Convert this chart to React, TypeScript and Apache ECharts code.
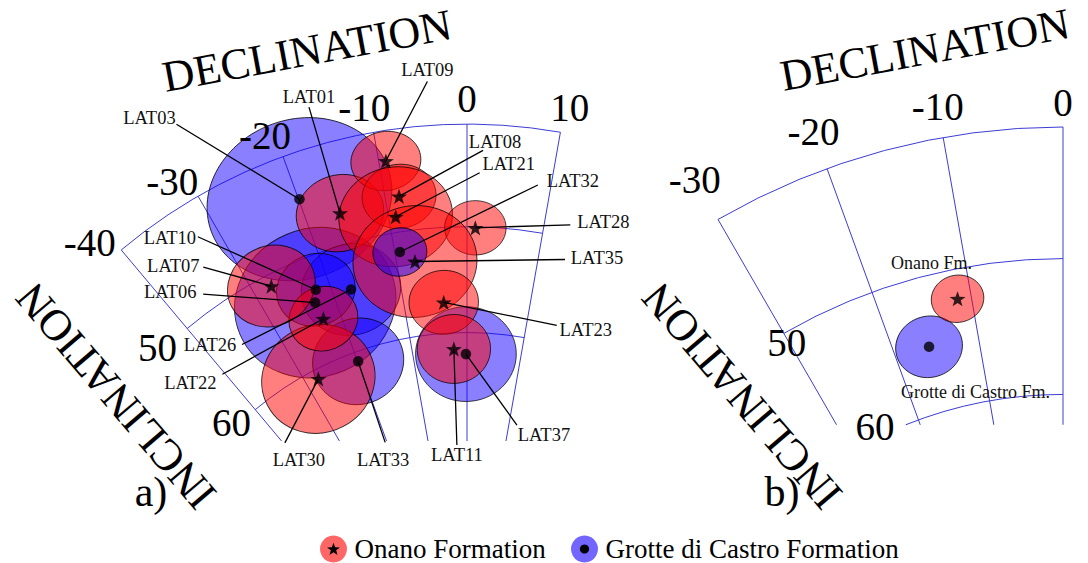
import React, { useEffect, useRef } from "react";
import * as echarts from "echarts";

// ---- Site-mean palaeomagnetic directions (panel a), listed in drawing order ----
const siteNames = ["LAT03", "LAT06", "LAT26", "LAT10", "LAT33", "LAT37", "LAT30", "LAT22", "LAT07", "LAT01", "LAT09", "LAT08", "LAT21", "LAT28", "LAT35", "LAT23", "LAT11", "LAT32"];
// O = Onano Formation, G = Grotte di Castro Formation
const siteFormation = ["G", "G", "G", "G", "G", "G", "O", "O", "O", "O", "O", "O", "O", "O", "O", "O", "O", "G"];
const siteDec = [-19.9, -22.9, -17.3, -22.1, -19.9, -0.2, -27.7, -22.7, -27.5, -15.8, -9.2, -8.3, -9.1, 1.1, -7.4, -3.7, -2.4, -9.3];
const siteInc = [44.5, 54.3, 54.3, 53.2, 60.9, 62.0, 60.9, 56.0, 51.1, 47.0, 43.0, 46.6, 48.5, 50.1, 53.0, 57.1, 61.5, 51.9];
const siteA95 = [7.8, 7.0, 4.3, 3.4, 4.0, 4.4, 5.0, 3.0, 3.8, 3.7, 2.9, 3.1, 4.8, 2.6, 5.3, 3.0, 3.2, 2.3];

// ---- Formation means (panel b) ----
const meanNames = ["Grotte di Castro Fm.", "Onano Fm."];
const meanFormation = ["G", "O"];
const meanDec = [-15.9, -11.5];
const meanInc = [55.15, 52.2];
const meanA95 = [2.25, 1.75];

// ---- Axis ticks ----
const decTicksA = [-40, -30, -20, -10, 0, 10];
const decTicksB = [-30, -20, -10, 0];
const incTicks = [40, 50, 60];
const incTickLabels = [50, 60];
const formationNames = ["Onano Formation", "Grotte di Castro Formation"];

// ---- Layout ----
const RAD = Math.PI / 180;
const FONT = '"Liberation Serif", "Times New Roman", Times, serif';
const GRID_COLOR = "#3c3cd2";
const FILL: Record<string, string> = { O: "rgba(255,0,0,0.5)", G: "rgba(20,0,255,0.5)" };
const LEGEND_FILL: Record<string, string> = { O: "rgba(255,0,0,0.6)", G: "rgba(20,0,255,0.6)" };
const STAR_PATH =
  "path://M0,-10 L2.35,-3.24 L9.51,-3.09 L3.8,1.24 L5.88,8.09 L0,4 L-5.88,8.09 L-3.8,1.24 L-9.51,-3.09 L-2.35,-3.24 Z";

// label centre offset [dx, dy] and leader-line start offset [lx, ly], relative to the site point
const siteLabelLayout: Record<string, number[]> = {
  LAT03: [-150, -81, -123, -75],
  LAT01: [-31, -116, -31, -106],
  LAT09: [41.5, -91.5, 41.5, -79.5],
  LAT08: [96, -54, 84, -46],
  LAT21: [113, -53, 84, -44],
  LAT32: [173, -71, 138, -67],
  LAT28: [128, -6, 95, -3],
  LAT35: [182, -4, 150, -2],
  LAT10: [-146, -52, -118, -53],
  LAT07: [-98, -20, -68, -19],
  LAT06: [-145, -10.5, -112, -8.5],
  LAT26: [-141, 55, -109, 55],
  LAT22: [-133, 64.5, -101, 55.5],
  LAT30: [-19.5, 81, -33.5, 64],
  LAT33: [25, 99, 27, 81],
  LAT11: [3, 106, 3, 96],
  LAT37: [78, 81, 51, 71],
  LAT23: [142, 28, 113, 23],
};
const meanLabelOffset = [
  [46.5, 45],
  [-26, -36],
];

const panels = [
  {
    center: [467, 662],
    radius: 900,
    decMin: -40,
    decMax: 10,
    decTicks: decTicksA,
    clipInc: 70,
    decLabelInc: 37.4,
    decLabelIncSlope: 0,
    decLabelStretch: 1.05,
    incLabelDec: [-44.5, -44.5],
    incLabelShift: [-0.6, -0.6],
  },
  {
    center: [1063, 817],
    radius: 1154.5,
    decMin: -30,
    decMax: 0,
    decTicks: decTicksB,
    clipInc: 62.2,
    decLabelInc: 38.1,
    decLabelIncSlope: -0.058,
    decLabelStretch: 1.0,
    incLabelDec: [-30.2, -25.7],
    incLabelShift: [0.7, -0.8],
  },
];

// Equal-area (Schmidt) radial distance for a given inclination, 0 at the pole
const proj = (inc: number) => Math.SQRT2 * Math.sin(((90 - inc) / 2) * RAD);

function gridRenderer(panel: any) {
  return (_params: any, api: any) => {
    const pt = (inc: number, dec: number) => api.coord([proj(inc), dec]);
    const c = api.coord([0, 0]);
    const yClip = pt(panel.clipInc, 0)[1];
    const style = { stroke: GRID_COLOR, lineWidth: 1, fill: "none" };
    const children: any[] = [];
    for (const d of panel.decTicks) {
      const p0 = pt(incTicks[0], d);
      const t = (yClip - p0[1]) / (c[1] - p0[1]);
      children.push({
        type: "line",
        shape: { x1: p0[0], y1: p0[1], x2: p0[0] + t * (c[0] - p0[0]), y2: yClip },
        style,
      });
    }
    for (const inc of incTicks) {
      const p = pt(inc, 0);
      const r = Math.hypot(p[0] - c[0], p[1] - c[1]);
      const k = (c[1] - yClip) / r;
      if (k >= 1) continue;
      const lim = Math.acos(k) / RAD;
      const lo = Math.max(panel.decMin, -lim);
      const hi = Math.min(panel.decMax, lim);
      children.push({
        type: "arc",
        shape: { cx: c[0], cy: c[1], r, startAngle: (lo - 90) * RAD, endAngle: (hi - 90) * RAD, clockwise: true },
        style,
      });
    }
    return { type: "group", children };
  };
}

function tickLabelRenderer(panel: any) {
  return (_params: any, api: any) => {
    const pt = (inc: number, dec: number) => api.coord([proj(inc), dec]);
    const children: any[] = [];
    const font = `39px ${FONT}`;
    for (const d of panel.decTicks) {
      const p = pt(panel.decLabelInc + panel.decLabelIncSlope * Math.abs(d), d * panel.decLabelStretch);
      children.push({
        type: "text",
        x: p[0],
        y: p[1],
        style: { text: String(d), font, fill: "#000", align: "center", verticalAlign: "middle" },
      });
    }
    incTickLabels.forEach((v, i) => {
      const p = pt(v + panel.incLabelShift[i], panel.incLabelDec[i]);
      children.push({
        type: "text",
        x: p[0],
        y: p[1],
        style: { text: String(v), font, fill: "#000", align: "center", verticalAlign: "middle" },
      });
    });
    return { type: "group", children };
  };
}

function ellipseRenderer(decs: number[], incs: number[], a95s: number[], forms: string[]) {
  return (params: any, api: any) => {
    const i = params.dataIndex;
    const dec = decs[i];
    const inc = incs[i];
    const a = a95s[i];
    const c = api.coord([0, 0]);
    const dist = (q: number[]) => Math.hypot(q[0] - c[0], q[1] - c[1]);
    const p = api.coord([proj(inc), dec]);
    const rOut = dist(api.coord([proj(inc - a), dec]));
    const rIn = dist(api.coord([proj(inc + a), dec]));
    const ry = (rOut - rIn) / 2;
    const rx = (dist(p) * (a * RAD)) / Math.sin((90 - inc) * RAD);
    return {
      type: "ellipse",
      x: p[0],
      y: p[1],
      rotation: -dec * RAD,
      shape: { cx: 0, cy: 0, rx, ry },
      style: { fill: FILL[forms[i]], stroke: "rgba(0,0,0,0.8)", lineWidth: 0.9 },
    };
  };
}

function siteLabelRenderer(params: any, api: any) {
  const i = params.dataIndex;
  const name = siteNames[i];
  const [dx, dy, lx, ly] = siteLabelLayout[name];
  const p = api.coord([proj(siteInc[i]), siteDec[i]]);
  return {
    type: "group",
    children: [
      {
        type: "line",
        shape: { x1: p[0] + lx, y1: p[1] + ly, x2: p[0], y2: p[1] },
        style: { stroke: "#000", lineWidth: 1.3 },
      },
      {
        type: "text",
        x: p[0] + dx,
        y: p[1] + dy,
        style: { text: name, font: `18.5px ${FONT}`, fill: "#111", align: "center", verticalAlign: "middle" },
      },
    ],
  };
}

function meanLabelRenderer(params: any, api: any) {
  const i = params.dataIndex;
  const p = api.coord([proj(meanInc[i]), meanDec[i]]);
  const [dx, dy] = meanLabelOffset[i];
  return {
    type: "text",
    x: p[0] + dx,
    y: p[1] + dy,
    style: { text: meanNames[i], font: `18px ${FONT}`, fill: "#111", align: "center", verticalAlign: "middle" },
  };
}

function markerSeries(polarIndex: number, name: string, decs: number[], incs: number[], forms: string[], code: string) {
  const data: number[][] = [];
  decs.forEach((d, i) => {
    if (forms[i] === code) data.push([proj(incs[i]), d]);
  });
  return {
    type: "scatter",
    name,
    coordinateSystem: "polar",
    polarIndex,
    data,
    symbol: code === "O" ? STAR_PATH : "circle",
    symbolKeepAspect: true,
    symbolSize: code === "O" ? 16 : 10.5,
    itemStyle: { color: "#000" },
    z: 4,
    silent: true,
  };
}

function starPoints(cx: number, cy: number, R: number, r: number) {
  const pts: number[][] = [];
  for (let k = 0; k < 10; k++) {
    const ang = (-90 + k * 36) * RAD;
    const rr = k % 2 === 0 ? R : r;
    pts.push([cx + rr * Math.cos(ang), cy + rr * Math.sin(ang)]);
  }
  return pts;
}

function buildOption() {
  const series: any[] = [];
  panels.forEach((panel, pi) => {
    series.push({
      type: "custom",
      coordinateSystem: "polar",
      polarIndex: pi,
      data: [[0, 0]],
      renderItem: gridRenderer(panel),
      z: 1,
      silent: true,
    });
    series.push({
      type: "custom",
      coordinateSystem: "polar",
      polarIndex: pi,
      data: [[0, 0]],
      renderItem: tickLabelRenderer(panel),
      z: 6,
      silent: true,
    });
  });

  // panel a: site means
  series.push({
    type: "custom",
    coordinateSystem: "polar",
    polarIndex: 0,
    data: siteNames.map((_, i) => [proj(siteInc[i]), siteDec[i]]),
    renderItem: ellipseRenderer(siteDec, siteInc, siteA95, siteFormation),
    z: 2,
    silent: true,
  });
  series.push({
    type: "custom",
    coordinateSystem: "polar",
    polarIndex: 0,
    data: siteNames.map((_, i) => [proj(siteInc[i]), siteDec[i]]),
    renderItem: siteLabelRenderer,
    z: 3,
    silent: true,
  });
  series.push(markerSeries(0, formationNames[0], siteDec, siteInc, siteFormation, "O"));
  series.push(markerSeries(0, formationNames[1], siteDec, siteInc, siteFormation, "G"));

  // panel b: formation means
  series.push({
    type: "custom",
    coordinateSystem: "polar",
    polarIndex: 1,
    data: meanNames.map((_, i) => [proj(meanInc[i]), meanDec[i]]),
    renderItem: ellipseRenderer(meanDec, meanInc, meanA95, meanFormation),
    z: 2,
    silent: true,
  });
  series.push({
    type: "custom",
    coordinateSystem: "polar",
    polarIndex: 1,
    data: meanNames.map((_, i) => [proj(meanInc[i]), meanDec[i]]),
    renderItem: meanLabelRenderer,
    z: 3,
    silent: true,
  });
  series.push(markerSeries(1, formationNames[0], meanDec, meanInc, meanFormation, "O"));
  series.push(markerSeries(1, formationNames[1], meanDec, meanInc, meanFormation, "G"));

  const titleFont = `44px ${FONT}`;
  const title = (text: string, x: number, y: number, deg: number, font = titleFont) => ({
    type: "text",
    x,
    y,
    rotation: deg * RAD,
    z: 10,
    style: { text, font, fill: "#000", align: "center", verticalAlign: "middle" },
  });

  const legendItem = (code: string, cx: number, text: string) => ({
    type: "group",
    children: [
      { type: "circle", shape: { cx, cy: 549, r: 13.5 }, style: { fill: LEGEND_FILL[code] } },
      code === "O"
        ? { type: "polygon", shape: { points: starPoints(cx, 549.5, 6.8, 2.8) }, style: { fill: "#000" } }
        : { type: "circle", shape: { cx, cy: 549, r: 4.6 }, style: { fill: "#000" } },
      {
        type: "text",
        x: cx + 21,
        y: 549,
        style: { text, font: `27px ${FONT}`, fill: "#000", align: "left", verticalAlign: "middle" },
      },
    ],
  });

  return {
    animation: false,
    backgroundColor: "#fff",
    polar: panels.map((p) => ({ center: p.center, radius: p.radius })),
    angleAxis: panels.map((_, i) => ({
      polarIndex: i,
      type: "value",
      min: -180,
      max: 180,
      startAngle: 270,
      clockwise: true,
      show: false,
    })),
    radiusAxis: panels.map((_, i) => ({
      polarIndex: i,
      type: "value",
      min: 0,
      max: 1,
      show: false,
    })),
    graphic: [
      title("DECLINATION", 307, 51, 10.5),
      title("DECLINATION", 925, 50, 10.5),
      title("INCLINATION", 116, 396, 130.5),
      title("INCLINATION", 742, 396, 130.5),
      title("a)", 151, 492, 0, `42px ${FONT}`),
      title("b)", 782, 492, 0, `42px ${FONT}`),
      legendItem("O", 333.5, formationNames[0]),
      legendItem("G", 584.5, formationNames[1]),
    ],
    series,
  };
}

export default function App() {
  const ref = useRef<HTMLDivElement>(null);
  useEffect(() => {
    if (!ref.current) return;
    const chart = echarts.init(ref.current, undefined, { renderer: "svg" });
    chart.setOption(buildOption() as any);
    return () => chart.dispose();
  }, []);
  return (
    <div
      ref={ref}
      style={{ position: "fixed", left: 0, top: 0, width: 1088, height: 563, background: "#fff" }}
    />
  );
}
